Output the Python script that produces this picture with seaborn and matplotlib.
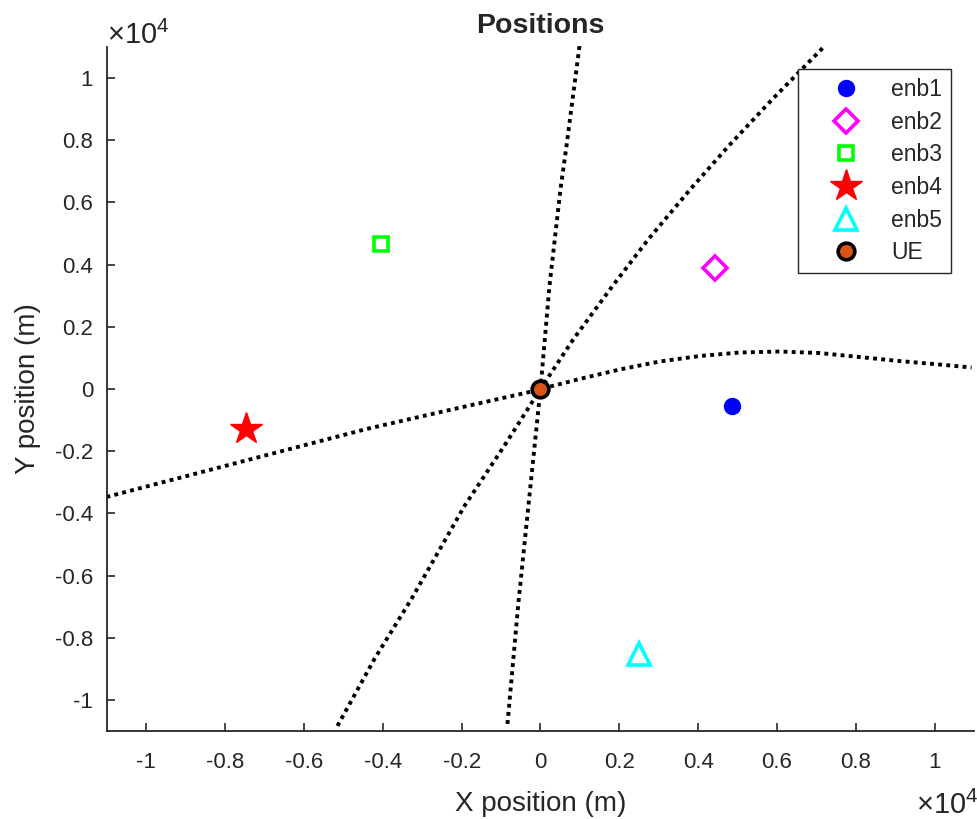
import numpy as np
import pandas as pd
import matplotlib
matplotlib.use("Agg")
import matplotlib.pyplot as plt
import seaborn as sns

# 基站与终端位置 (m)
enb_names = ["enb1", "enb2", "enb3", "enb4", "enb5"]
enb_x = [4870, 4440, -4040, -7460, 2510]
enb_y = [-550, 3890, 4660, -1290, -8520]
ue_x, ue_y = 0, 0

# 双曲线（读自图中的点）
curve_a_x = [-838, -558, 0, 228, 508, 660, 990]
curve_a_y = [-10772, -6849, 0, 3312, 6431, 7814, 11029]

curve_b_x = [-5152, -4213, -3274, -1929, -888, 0, 838, 1827, 2741, 3807, 4772, 5888, 7208]
curve_b_y = [-10836, -8682, -6752, -3762, -1768, 0, 1608, 3312, 4823, 6431, 7814, 9325, 11029]

curve_c_x = [-11015, -7817, -4416, -2310, -279, 0, 990, 2005, 3020, 4036, 5051,
             6066, 7081, 8096, 9112, 10127, 10939]
curve_c_y = [-3473, -2412, -1286, -675, -96, 0, 322, 627, 884, 1061, 1174,
             1206, 1158, 1029, 900, 788, 691]

tick_vals = [-10000, -8000, -6000, -4000, -2000, 0, 2000, 4000, 6000, 8000, 10000]
tick_labels = ["-1", "-0.8", "-0.6", "-0.4", "-0.2", "0", "0.2", "0.4", "0.6", "0.8", "1"]

sns.set_style("ticks")
plt.rcParams['font.family'] = ['Liberation Sans', 'DejaVu Sans']
plt.rcParams['mathtext.fontset'] = 'custom'
plt.rcParams['mathtext.rm'] = 'Liberation Sans'

grey = '#262626'

fig = plt.figure(figsize=(9.77, 8.19), dpi=100)
ax = fig.add_axes([0.1095, 0.1074, 0.8874, 0.8352])

for cx, cy in [(curve_a_x, curve_a_y), (curve_b_x, curve_b_y), (curve_c_x, curve_c_y)]:
    d = pd.DataFrame({"x": cx, "y": cy})
    sns.lineplot(data=d, x="x", y="y", sort=False, estimator=None, ax=ax,
                 color='black', linestyle=(0, (1, 1.1)), linewidth=2.8,
                 legend=False, clip_on=False)

mw = 2.6
ax.plot(enb_x[0], enb_y[0], 'o', color='blue', ms=11.5, label=enb_names[0])
ax.plot(enb_x[1], enb_y[1], 'D', color='magenta', mfc='none', ms=12.5, mew=mw, label=enb_names[1])
ax.plot(enb_x[2], enb_y[2], 's', color='#00ff00', mfc='none', ms=10.5, mew=mw, label=enb_names[2])
ax.plot(enb_x[3], enb_y[3], '*', color='red', ms=24, label=enb_names[3])
ax.plot(enb_x[4], enb_y[4], '^', color='cyan', mfc='none', ms=16, mew=mw, label=enb_names[4])
ax.plot(ue_x, ue_y, 'o', mfc='#D95319', mec='black', ms=12, mew=mw, label='UE')

ax.set_xlim(-11000, 11000)
ax.set_ylim(-11000, 11000)
ax.set_xticks(tick_vals)
ax.set_xticklabels(tick_labels)
ax.set_yticks(tick_vals)
ax.set_yticklabels(tick_labels)
ax.tick_params(direction='in', length=6, width=1.2, colors=grey, labelsize=16)
ax.tick_params(axis='x', pad=15)
ax.tick_params(axis='y', pad=10)
for s in ['top', 'right']:
    ax.spines[s].set_visible(False)
for s in ['left', 'bottom']:
    ax.spines[s].set_color(grey)
    ax.spines[s].set_linewidth(1.3)

ax.set_xlabel("X position (m)", fontsize=20, color=grey, labelpad=13)
ax.set_ylabel("Y position (m)", fontsize=20, color=grey, labelpad=10)
ax.set_title("Positions", fontsize=20.5, fontweight='bold', pad=10)

ax.text(0.0, 0.996, r'$\mathregular{\times 10^{4}}$', transform=ax.transAxes,
        fontsize=21, color=grey, ha='left', va='bottom')
ax.text(1.005, -0.088, r'$\mathregular{\times 10^{4}}$', transform=ax.transAxes,
        fontsize=21, color=grey, ha='right', va='top')

leg = ax.legend(loc='upper right', bbox_to_anchor=(0.9735, 0.968), borderaxespad=0,
                fontsize=16.5, frameon=True, fancybox=False, framealpha=1, edgecolor=grey,
                labelspacing=0.42, handletextpad=0.26, borderpad=0.4, handlelength=3.4)
leg.get_frame().set_linewidth(1.0)

fig.savefig("out.png", dpi=100)
